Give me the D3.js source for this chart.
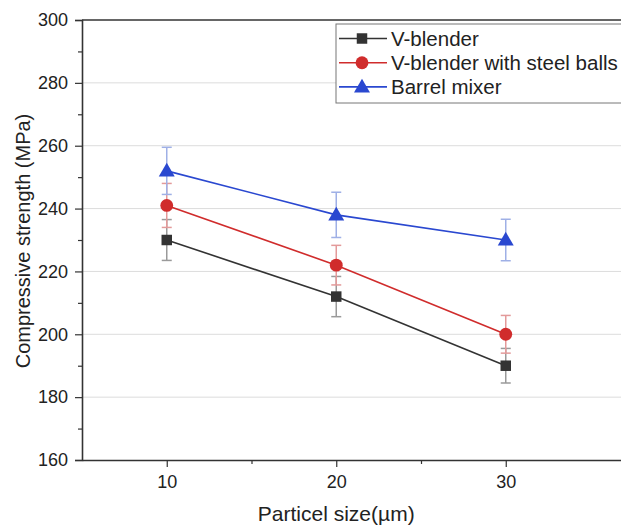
<!DOCTYPE html>
<html>
<head>
<meta charset="utf-8">
<script src="https://cdn.jsdelivr.net/npm/d3@7"></script>
<style>
  body { margin: 0; background: #fff; }
  svg text { font-family: "Liberation Sans", Arial, sans-serif; fill: #222; }
</style>
</head>
<body>
<div id="chart"></div>
<script>
// data
const sizes = [10, 20, 30];
const seriesNames = ["V-blender", "V-blender with steel balls", "Barrel mixer"];
const vBlender = [230, 212, 190];
const vBlenderErr = [6.5, 6.4, 5.5];
const vBlenderBalls = [241, 222, 200];
const vBlenderBallsErr = [7, 6.3, 6];
const barrel = [252, 238, 230];
const barrelErr = [7.5, 7.2, 6.6];
const yTicks = [160, 180, 200, 220, 240, 260, 280, 300];
const yMinor = [170, 190, 210, 230, 250, 270, 290];
const xTicks = [10, 20, 30];
const xMinor = [15, 25];

function drawChart(id) {
  let width = 621, height = 527;
  let left = 82, top = 20, bottom = 460;

  let series = [
    {name: seriesNames[0], values: vBlender, err: vBlenderErr, color: "#333333", errColor: "#9a9a9a", shape: "square"},
    {name: seriesNames[1], values: vBlenderBalls, err: vBlenderBallsErr, color: "#d02c2c", errColor: "#e39a9a", shape: "circle"},
    {name: seriesNames[2], values: barrel, err: barrelErr, color: "#2a48d0", errColor: "#9fb0e6", shape: "triangle"}
  ];

  let svg = d3.select(`#${id}`).append("svg").attr("width", width).attr("height", height);

  let x = d3.scaleLinear().domain([5, 37]).range([left, left + 32 * 16.95]);
  let y = d3.scaleLinear().domain([160, 300]).range([bottom, top]);

  // grid
  svg.append("g").selectAll("line")
    .data(yTicks.slice(1, -1))
    .join("line")
    .attr("x1", left).attr("x2", width)
    .attr("y1", d => y(d)).attr("y2", d => y(d))
    .attr("stroke", "#dcdcdc").attr("stroke-width", 1);

  // top frame
  svg.append("line")
    .attr("x1", left).attr("x2", width)
    .attr("y1", y(300)).attr("y2", y(300))
    .attr("stroke", "#333").attr("stroke-width", 1.6);

  // y axis
  svg.append("g").attr("transform", `translate(${left},0)`)
    .call(d3.axisLeft(y).tickValues(yTicks).tickSize(7).tickPadding(7).tickFormat(d3.format("d")));
  svg.append("g").attr("transform", `translate(${left},0)`)
    .call(d3.axisLeft(y).tickValues(yMinor).tickSize(4).tickFormat(""))
    .select(".domain").remove();

  // x axis
  svg.append("g").attr("transform", `translate(0,${bottom})`)
    .call(d3.axisBottom(x).tickValues(xTicks).tickSize(7).tickPadding(8).tickSizeOuter(0));
  svg.append("g").attr("transform", `translate(0,${bottom})`)
    .call(d3.axisBottom(x).tickValues(xMinor).tickSize(4).tickFormat(""))
    .select(".domain").remove();

  svg.selectAll(".domain").attr("stroke", "#333").attr("stroke-width", 1.6);
  svg.selectAll(".tick line").attr("stroke", "#333").attr("stroke-width", 1.2);
  svg.selectAll(".tick text").style("font-size", "18px");

  // axis titles
  svg.append("text")
    .attr("x", x(20)).attr("y", 521)
    .attr("text-anchor", "middle").style("font-size", "21px")
    .text("Particel size(\u00b5m)");
  svg.append("text")
    .attr("transform", `translate(30,${(top + bottom) / 2 + 1}) rotate(-90)`)
    .attr("text-anchor", "middle").style("font-size", "20px")
    .text("Compressive strength (MPa)");

  let symbols = {
    square: d3.symbol().type(d3.symbolSquare).size(110),
    circle: d3.symbol().type(d3.symbolCircle).size(130),
    triangle: d3.symbol().type(d3.symbolTriangle).size(110)
  };

  // error bars
  series.forEach(s => {
    let g = svg.append("g");
    s.values.forEach((v, i) => {
      let cx = x(sizes[i]);
      g.append("line")
        .attr("x1", cx).attr("x2", cx)
        .attr("y1", y(v - s.err[i])).attr("y2", y(v + s.err[i]))
        .attr("stroke", s.errColor).attr("stroke-width", 1.5);
      [v - s.err[i], v + s.err[i]].forEach(e => {
        g.append("line")
          .attr("x1", cx - 5).attr("x2", cx + 5)
          .attr("y1", y(e)).attr("y2", y(e))
          .attr("stroke", s.errColor).attr("stroke-width", 1.5);
      });
    });
  });

  // lines and markers
  series.forEach(s => {
    let line = d3.line().x((d, i) => x(sizes[i])).y(d => y(d));
    svg.append("path")
      .attr("d", line(s.values))
      .attr("fill", "none").attr("stroke", s.color).attr("stroke-width", 1.6);
    svg.append("g").selectAll("path")
      .data(s.values)
      .join("path")
      .attr("d", symbols[s.shape])
      .attr("transform", (d, i) => `translate(${x(sizes[i])},${y(d) + (s.shape === "triangle" ? 1 : 0)})`)
      .attr("fill", s.color);
  });

  // legend
  let legend = svg.append("g").attr("transform", "translate(336,24)");
  legend.append("rect")
    .attr("width", 300).attr("height", 79)
    .attr("fill", "#fff").attr("stroke", "#777").attr("stroke-width", 1);
  series.forEach((s, i) => {
    let ly = 14.5 + i * 24.2;
    legend.append("line")
      .attr("x1", 3).attr("x2", 51).attr("y1", ly).attr("y2", ly)
      .attr("stroke", s.color).attr("stroke-width", 1.6);
    legend.append("path")
      .attr("d", symbols[s.shape])
      .attr("transform", `translate(26,${ly + (s.shape === "triangle" ? 1 : 0)})`)
      .attr("fill", s.color);
    legend.append("text")
      .attr("x", 55).attr("y", ly + 7)
      .style("font-size", "20.5px")
      .text(s.name);
  });
}

drawChart("chart");
</script>
</body>
</html>
